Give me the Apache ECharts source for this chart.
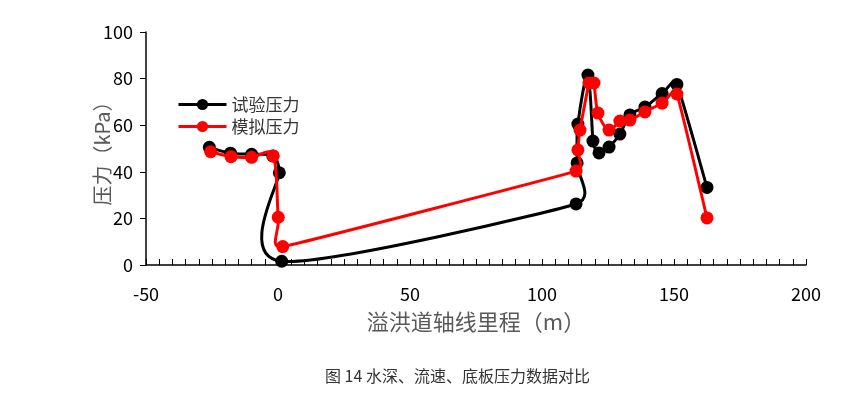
<!DOCTYPE html>
<html><head><meta charset="utf-8">
<script src="https://cdn.jsdelivr.net/npm/echarts@6/dist/echarts.min.js"></script>
<style>html,body{margin:0;padding:0;background:#fff;}#c{width:867px;height:394px;}</style>
</head><body><div id="c"></div>
<script>
const seriesNames = ['试验压力', '模拟压力'];
const testX = [-26, -18, -10, -2, 0.5, 1.4, 112.9, 113.3, 113.6, 117.4, 119.3, 121.6, 125.4, 129.5, 133.3, 139, 145.5, 151.1, 162.5];
const testY = [50.5, 48, 47.5, 46.8, 39.6, 1.6, 26.2, 43.8, 60.5, 81.5, 53.2, 48.1, 50.6, 56.2, 64.4, 67.8, 73.6, 77.5, 33.3];
const simX = [-25.5, -17.8, -10, -1.8, 0.1, 1.8, 112.9, 113.6, 114.4, 117.8, 119.7, 121.2, 125.4, 129.5, 133.3, 139, 145.5, 151.1, 162.5];
const simY = [48.6, 46.5, 46.2, 46.8, 20.5, 7.9, 40.3, 49.4, 57.9, 78.1, 78.1, 65.2, 57.9, 61.8, 62.2, 65.7, 69.5, 73.4, 20.2];
const xTicks = [-50, 0, 50, 100, 150, 200];
const yTicks = [0, 20, 40, 60, 80, 100];
const xTitle = '溢洪道轴线里程（m）';
const yTitle = '压力（kPa）';
const caption = '图 14 水深、流速、底板压力数据对比';

const zip = (xs, ys) => xs.map((x, i) => [x, ys[i]]);
const font = "'Noto Sans CJK SC', 'Open Sans', sans-serif";
const colors = ['#000000', '#ff0000'];

// Spreadsheet-style smoothed line: Bezier segments whose control arms follow the
// neighbour tangent (1/6 of it), limited to half of the adjacent segment lengths.
// Points come from the library's coordinate conversion (api.coord).
function smoothCurve(xs, ys, color) {
  return function (params, api) {
    if (params.dataIndex !== 0) return null;
    const p = xs.map((x, i) => api.coord([x, ys[i]]));
    const n = p.length;
    const dist = (a, b) => Math.hypot(a[0] - b[0], a[1] - b[1]);
    const tan = p.map((pt, i) => {
      const a = p[i - 1] || pt, b = p[i + 1] || pt;
      const d02 = dist(a, b);
      if (d02 === 0) return [0, 0];
      let f = 1 / 6;
      if (i > 0) f = Math.min(f, 0.5 * dist(a, pt) / d02);
      if (i < n - 1) f = Math.min(f, 0.5 * dist(pt, b) / d02);
      return [(b[0] - a[0]) * f, (b[1] - a[1]) * f];
    });
    let d = 'M' + p[0][0] + ' ' + p[0][1];
    for (let i = 0; i < n - 1; i++) {
      const p1 = p[i], p2 = p[i + 1];
      const c1x = p1[0] + tan[i][0], c1y = p1[1] + tan[i][1];
      const c2x = p2[0] - tan[i + 1][0], c2y = p2[1] - tan[i + 1][1];
      d += ' C' + c1x + ' ' + c1y + ' ' + c2x + ' ' + c2y + ' ' + p2[0] + ' ' + p2[1];
    }
    return {
      type: 'path',
      shape: {pathData: d},
      style: {fill: null, stroke: color, lineWidth: 3, lineJoin: 'round'}
    };
  };
}

const chart = echarts.init(document.getElementById('c'));
chart.setOption({
  animation: false,
  backgroundColor: '#fff',
  title: {
    text: caption, left: 320, top: 363,
    textStyle: {fontFamily: font, fontSize: 16, fontWeight: 'normal', color: '#333'}
  },
  legend: {
    left: 172, top: 91, orient: 'vertical', itemGap: 5, itemWidth: 48, itemHeight: 14,
    textStyle: {fontFamily: font, fontSize: 17, color: '#333'},
    data: [
      {name: seriesNames[0], lineStyle: {color: colors[0], width: 3, opacity: 1}, itemStyle: {color: colors[0]}},
      {name: seriesNames[1], lineStyle: {color: colors[1], width: 3, opacity: 1}, itemStyle: {color: colors[1]}}
    ]
  },
  grid: {left: 146, right: 61, top: 32, bottom: 129},
  xAxis: {
    type: 'value', min: xTicks[0], max: xTicks[xTicks.length - 1], interval: 50,
    name: xTitle, nameLocation: 'middle', nameGap: 46,
    nameTextStyle: {fontFamily: font, fontSize: 22, color: '#595959'},
    axisLine: {onZero: false, lineStyle: {color: '#000', width: 1.5}},
    axisTick: {show: true, inside: true, length: 6, lineStyle: {color: '#000'}},
    minorTick: {show: true, splitNumber: 10, length: 6, lineStyle: {color: '#000'}},
    axisLabel: {fontFamily: font, fontSize: 18, color: '#000', margin: 20},
    splitLine: {show: false}
  },
  yAxis: {
    type: 'value', min: yTicks[0], max: yTicks[yTicks.length - 1], interval: 20,
    name: yTitle, nameLocation: 'middle', nameGap: 34, nameRotate: 90, nameMoveOverlap: false,
    nameTextStyle: {fontFamily: font, fontSize: 20, color: '#595959'},
    axisLine: {show: true, onZero: false, lineStyle: {color: '#000', width: 1.5}},
    axisTick: {show: true, inside: false, length: 6, lineStyle: {color: '#000'}},
    axisLabel: {fontFamily: font, fontSize: 18, color: '#000', margin: 13},
    splitLine: {show: false}
  },
  series: [
    {
      type: 'custom', name: 'curve0', z: 2, silent: true,
      renderItem: smoothCurve(testX, testY, colors[0]), data: [[testX[0], testY[0]]]
    },
    {
      name: seriesNames[0], type: 'line', data: zip(testX, testY), z: 3,
      symbol: 'circle', symbolSize: 13, showSymbol: true,
      lineStyle: {color: colors[0], width: 0, opacity: 0}, itemStyle: {color: colors[0]}
    },
    {
      type: 'custom', name: 'curve1', z: 4, silent: true,
      renderItem: smoothCurve(simX, simY, colors[1]), data: [[simX[0], simY[0]]]
    },
    {
      name: seriesNames[1], type: 'line', data: zip(simX, simY), z: 5,
      symbol: 'circle', symbolSize: 13, showSymbol: true,
      lineStyle: {color: colors[1], width: 0, opacity: 0}, itemStyle: {color: colors[1]}
    }
  ]
});
</script></body></html>
